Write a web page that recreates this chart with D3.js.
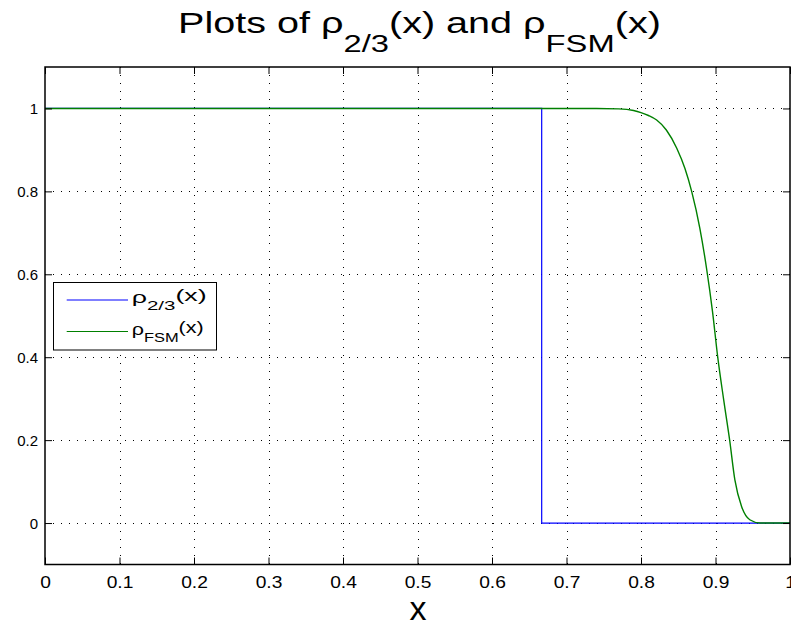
<!DOCTYPE html>
<html><head><meta charset="utf-8">
<script src="https://cdn.jsdelivr.net/npm/d3@7"></script>
<style>
html,body{margin:0;padding:0;background:#fff;}
svg{display:block;font-family:"Liberation Sans",Arial,Helvetica,sans-serif;}
</style></head>
<body>
<svg id="chart" width="791" height="628"></svg>
<script>
// ---- data ----
const xTicks = [0, 0.1, 0.2, 0.3, 0.4, 0.5, 0.6, 0.7, 0.8, 0.9, 1];
const xTickLabels = ["0", "0.1", "0.2", "0.3", "0.4", "0.5", "0.6", "0.7", "0.8", "0.9", "1"];
const yTicks = [0, 0.2, 0.4, 0.6, 0.8, 1];
const yTickLabels = ["0", "0.2", "0.4", "0.6", "0.8", "1"];
const rho23X = [0, 0.6667, 0.6667, 1];
const rho23Y = [1, 1, 0, 0];
const fsmX = [0, 0.74, 0.77, 0.79, 0.80, 0.81, 0.821, 0.834, 0.848, 0.859, 0.868, 0.879, 0.888, 0.896, 0.903, 0.911, 0.919, 0.926, 0.935, 0.946, 0.96, 1.0];
const fsmY = [1, 1, 0.999, 0.995, 0.99, 0.983, 0.972, 0.948, 0.904, 0.855, 0.80, 0.711, 0.614, 0.51, 0.40, 0.297, 0.20, 0.104, 0.04, 0.008, 0, 0];
const seriesNames = ["2/3", "FSM"];
const seriesColors = ["#0000ff", "#008000"];

// ---- layout ----
const L = 45, R = 790, T = 67, B = 564.5;
const svg = d3.select("#chart");
const x = d3.scaleLinear().domain([0, 1]).range([L, R]);
const y = d3.scaleLinear().domain([-0.1, 1.1]).range([B, T]);

// grid
const grid = svg.append("g").attr("stroke", "#000").attr("stroke-width", 1).attr("stroke-dasharray", "1,7");
grid.selectAll("line.gx").data(xTicks.filter(v => v > 0 && v < 1)).join("line")
  .attr("x1", d => Math.round(x(d)) + 0.5).attr("x2", d => Math.round(x(d)) + 0.5)
  .attr("y1", T).attr("y2", B);
grid.selectAll("line.gy").data(yTicks).join("line")
  .attr("y1", d => Math.round(y(d)) + 0.5).attr("y2", d => Math.round(y(d)) + 0.5)
  .attr("x1", L).attr("x2", R);

// series
const line = d3.line().x(d => x(d[0])).y(d => y(d[1]));
svg.append("path").datum(rho23X.map((v, i) => [v, rho23Y[i]]))
  .attr("d", line).attr("fill", "none").attr("stroke", seriesColors[0]).attr("stroke-width", 1.2);
svg.append("path").datum(fsmX.map((v, i) => [v, fsmY[i]]))
  .attr("d", line.curve(d3.curveMonotoneX)).attr("fill", "none").attr("stroke", seriesColors[1]).attr("stroke-width", 1.4);

// axes (ticks inward, box)
const tk = 7;
const axB = svg.append("g").attr("transform", `translate(0,${B})`)
  .call(d3.axisBottom(x).tickValues(xTicks).tickSize(-tk).tickPadding(12).tickFormat((d, i) => xTickLabels[i]));
const axT = svg.append("g").attr("transform", `translate(0,${T})`)
  .call(d3.axisTop(x).tickValues(xTicks).tickSize(-tk).tickFormat(""));
const axL = svg.append("g").attr("transform", `translate(${L},0)`)
  .call(d3.axisLeft(y).tickValues(yTicks).tickSize(-tk).tickPadding(7).tickFormat((d, i) => yTickLabels[i]));
const axR = svg.append("g").attr("transform", `translate(${R},0)`)
  .call(d3.axisRight(y).tickValues(yTicks).tickSize(-tk).tickFormat(""));
[axB, axT, axL, axR].forEach(a => {
  a.select(".domain").remove();
  a.selectAll("line").attr("stroke", "#000");
  a.selectAll("text").attr("fill", "#000").attr("font-size", 16)
    .attr("font-family", '"Liberation Sans",Arial,sans-serif');
});
axB.selectAll("text").attr("transform", "scale(1.2,1)");
axL.selectAll("text").attr("dy", "0.35em").attr("font-size", 15);
svg.append("rect").attr("x", L).attr("y", T).attr("width", R - L).attr("height", B - T)
  .attr("fill", "none").attr("stroke", "#000").attr("stroke-width", 1.5);

// title
const title = svg.append("text").attr("fill", "#000").attr("font-size", 29).attr("text-anchor", "start");
title.append("tspan").text("Plots of \u03C1");
title.append("tspan").attr("font-size", 24).attr("dy", 19).text("2/3");
title.append("tspan").attr("dy", -19).text("(x) and \u03C1");
title.append("tspan").attr("font-size", 24).attr("dy", 19).text("FSM");
title.append("tspan").attr("dy", -19).text("(x)");
const tw = title.node().getComputedTextLength();
title.attr("transform", `translate(178,33) scale(${483 / tw},1)`);

// x label
svg.append("text").attr("x", 418).attr("y", 620).attr("text-anchor", "middle")
  .attr("font-size", 34).attr("fill", "#000").text("x");

// legend
const lg = svg.append("g");
lg.append("rect").attr("x", 53.5).attr("y", 282.5).attr("width", 163).attr("height", 67.5)
  .attr("fill", "#fff").attr("stroke", "#000").attr("stroke-width", 1);
const legY = [300, 331.5];
const legW = [75, 72];
seriesNames.forEach((nm, i) => {
  lg.append("line").attr("x1", 66.7).attr("x2", 128).attr("y1", legY[i]).attr("y2", legY[i])
    .attr("stroke", seriesColors[i]).attr("stroke-width", 1.2);
  const t = lg.append("text").attr("fill", "#000").attr("font-size", 17);
  t.append("tspan").text("\u03C1");
  t.append("tspan").attr("font-size", 13).attr("dy", 7).text(nm);
  t.append("tspan").attr("dy", -9).text("(x)");
  const w = t.node().getComputedTextLength();
  t.attr("transform", `translate(131.7,${legY[i] + 3}) scale(${legW[i] / w},1)`);
});
</script>
</body></html>
